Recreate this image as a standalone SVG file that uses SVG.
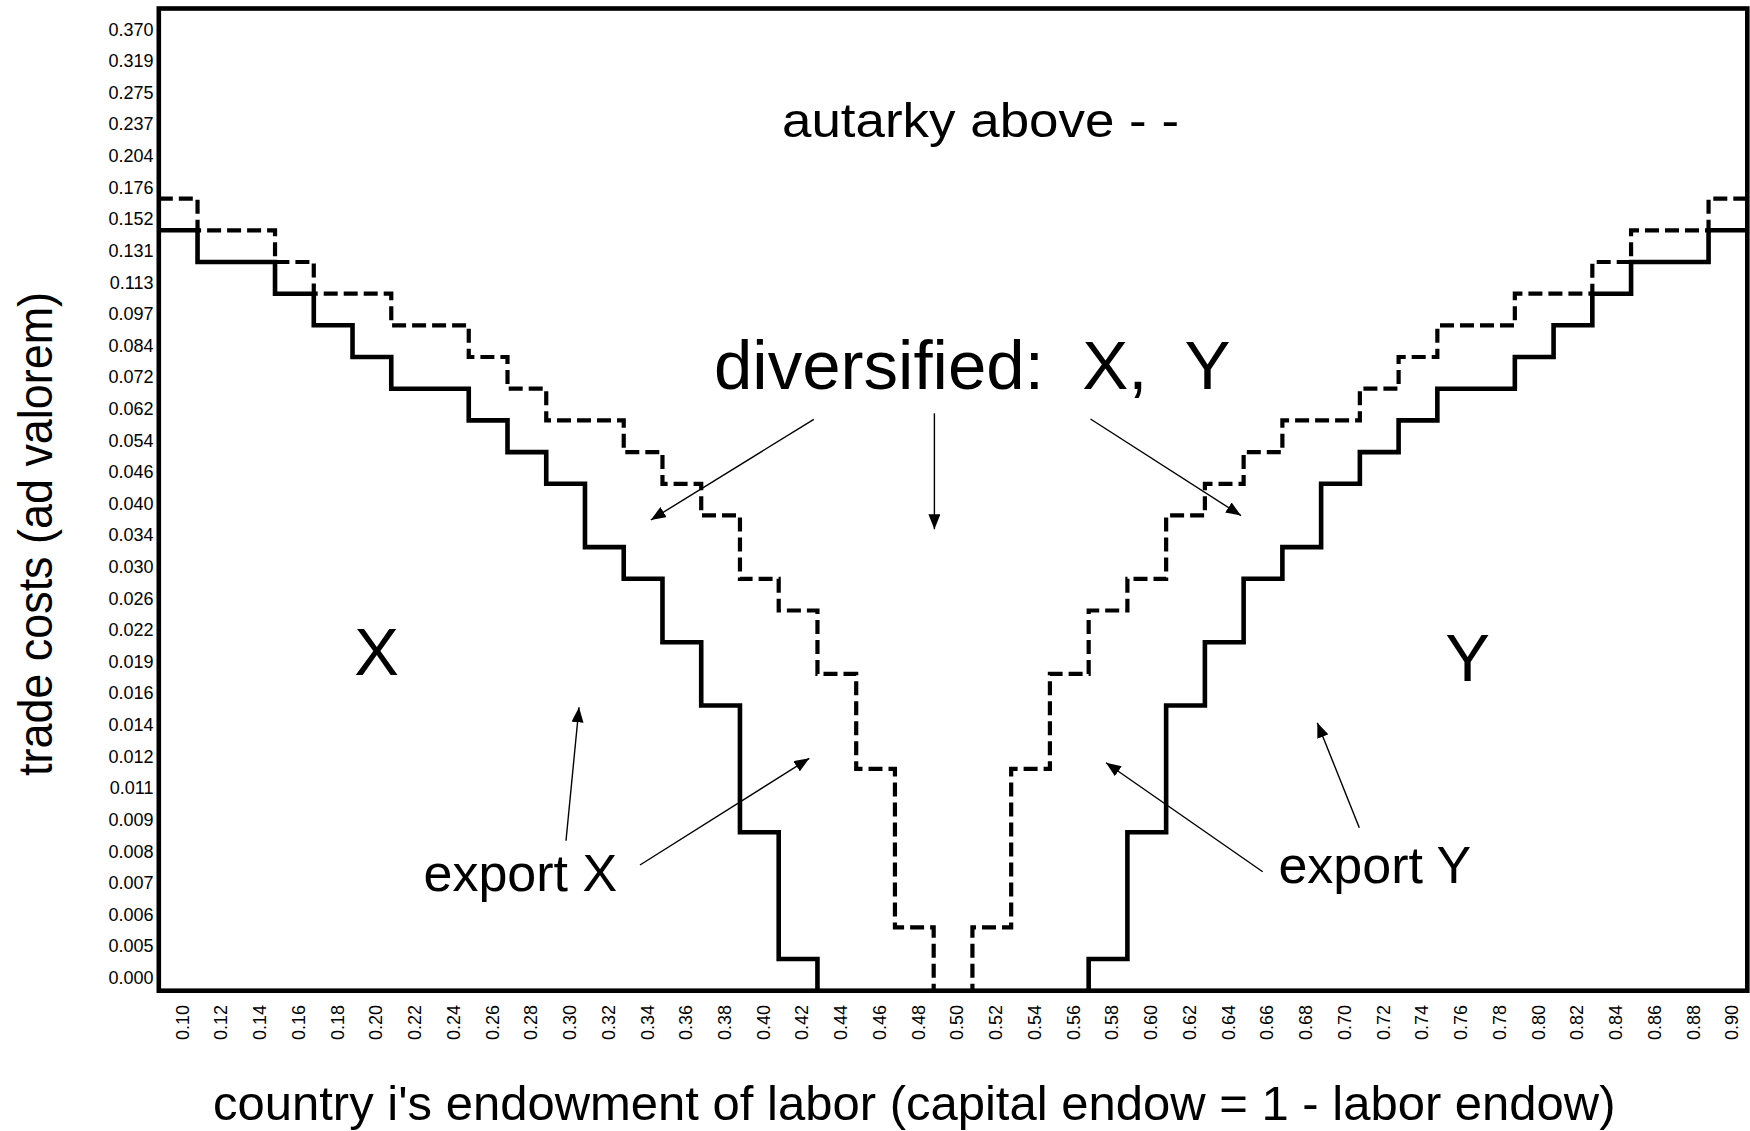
<svg xmlns="http://www.w3.org/2000/svg" width="1750" height="1131" viewBox="0 0 1750 1131">
<style>
text{font-family:"Liberation Sans",Arial,Helvetica,sans-serif;fill:#000}
.tk{font-size:18px}
.yt{text-anchor:end}
.xt{text-anchor:end}
.solid{fill:none;stroke:#000;stroke-width:4.6;stroke-linejoin:miter}
.dash{fill:none;stroke:#000;stroke-width:4.2;stroke-dasharray:14 6;stroke-linejoin:miter}
.arr{fill:none;stroke:#000;stroke-width:1.4;marker-end:url(#ah)}
.big{font-size:67px;text-anchor:middle}
.note{font-size:52px}
</style>
<defs>
<marker id="ah" viewBox="0 0 15 12" refX="15" refY="6" markerWidth="15" markerHeight="12" markerUnits="userSpaceOnUse" orient="auto">
<path d="M0,0 L15,6 L0,12 z" fill="#000"/>
</marker>
</defs>
<rect width="1750" height="1131" fill="#fff"/>

<g id="curves">
<path id="solid-left" class="solid" d="M158.8,230.3 H197.54 V262.0 H275.03 V293.7 H313.78 V325.3 H352.52 V357.0 H391.26 V388.7 H468.75 V420.4 H507.50 V452.1 H546.24 V483.8 H584.98 V547.1 H623.73 V578.8 H662.47 V642.2 H701.22 V705.5 H739.96 V832.3 H778.70 V959.0 H817.45 V990.7"/>
<path id="solid-right" class="solid" d="M1088.66,990.7 V959.0 H1127.40 V832.3 H1166.14 V705.5 H1204.89 V642.2 H1243.63 V578.8 H1282.38 V547.1 H1321.12 V483.8 H1359.86 V452.1 H1398.61 V420.4 H1437.35 V388.7 H1514.84 V357.0 H1553.58 V325.3 H1592.33 V293.7 H1631.07 V262.0 H1708.56 V230.3 H1747.3"/>
<path id="dash-left" class="dash" d="M158.8,198.6 H197.54 V230.3 H275.03 V262.0 H313.78 V293.7 H391.26 V325.3 H468.75 V357.0 H507.50 V388.7 H546.24 V420.4 H623.73 V452.1 H662.47 V483.8 H701.22 V515.4 H739.96 V578.8 H778.70 V610.5 H817.45 V673.9 H856.19 V768.9 H894.94 V927.3 H933.68 V990.7"/>
<path id="dash-right" class="dash" d="M1747.3,198.6 H1708.56 V230.3 H1631.07 V262.0 H1592.33 V293.7 H1514.84 V325.3 H1437.35 V357.0 H1398.61 V388.7 H1359.86 V420.4 H1282.38 V452.1 H1243.63 V483.8 H1204.89 V515.4 H1166.14 V578.8 H1127.40 V610.5 H1088.66 V673.9 H1049.91 V768.9 H1011.17 V927.3 H972.42 V990.7"/>
</g>

<g id="frame">
<rect x="158.8" y="8.5" width="1588.5" height="982.2" fill="none" stroke="#000" stroke-width="4.6"/>
</g>

<g id="y-ticks" class="tk yt">
<text x="153.5" y="35.6">0.370</text>
<text x="153.5" y="67.2">0.319</text>
<text x="153.5" y="98.8">0.275</text>
<text x="153.5" y="130.4">0.237</text>
<text x="153.5" y="162.0">0.204</text>
<text x="153.5" y="193.7">0.176</text>
<text x="153.5" y="225.3">0.152</text>
<text x="153.5" y="256.9">0.131</text>
<text x="153.5" y="288.5">0.113</text>
<text x="153.5" y="320.1">0.097</text>
<text x="153.5" y="351.7">0.084</text>
<text x="153.5" y="383.3">0.072</text>
<text x="153.5" y="414.9">0.062</text>
<text x="153.5" y="446.5">0.054</text>
<text x="153.5" y="478.1">0.046</text>
<text x="153.5" y="509.8">0.040</text>
<text x="153.5" y="541.4">0.034</text>
<text x="153.5" y="573.0">0.030</text>
<text x="153.5" y="604.6">0.026</text>
<text x="153.5" y="636.2">0.022</text>
<text x="153.5" y="667.8">0.019</text>
<text x="153.5" y="699.4">0.016</text>
<text x="153.5" y="731.0">0.014</text>
<text x="153.5" y="762.6">0.012</text>
<text x="153.5" y="794.2">0.011</text>
<text x="153.5" y="825.9">0.009</text>
<text x="153.5" y="857.5">0.008</text>
<text x="153.5" y="889.1">0.007</text>
<text x="153.5" y="920.7">0.006</text>
<text x="153.5" y="952.3">0.005</text>
<text x="153.5" y="983.9">0.000</text>
</g>

<g id="x-ticks" class="tk xt">
<text transform="translate(188.57,1005) rotate(-90)">0.10</text>
<text transform="translate(227.31,1005) rotate(-90)">0.12</text>
<text transform="translate(266.06,1005) rotate(-90)">0.14</text>
<text transform="translate(304.80,1005) rotate(-90)">0.16</text>
<text transform="translate(343.55,1005) rotate(-90)">0.18</text>
<text transform="translate(382.29,1005) rotate(-90)">0.20</text>
<text transform="translate(421.03,1005) rotate(-90)">0.22</text>
<text transform="translate(459.78,1005) rotate(-90)">0.24</text>
<text transform="translate(498.52,1005) rotate(-90)">0.26</text>
<text transform="translate(537.27,1005) rotate(-90)">0.28</text>
<text transform="translate(576.01,1005) rotate(-90)">0.30</text>
<text transform="translate(614.75,1005) rotate(-90)">0.32</text>
<text transform="translate(653.50,1005) rotate(-90)">0.34</text>
<text transform="translate(692.24,1005) rotate(-90)">0.36</text>
<text transform="translate(730.99,1005) rotate(-90)">0.38</text>
<text transform="translate(769.73,1005) rotate(-90)">0.40</text>
<text transform="translate(808.47,1005) rotate(-90)">0.42</text>
<text transform="translate(847.22,1005) rotate(-90)">0.44</text>
<text transform="translate(885.96,1005) rotate(-90)">0.46</text>
<text transform="translate(924.71,1005) rotate(-90)">0.48</text>
<text transform="translate(963.45,1005) rotate(-90)">0.50</text>
<text transform="translate(1002.19,1005) rotate(-90)">0.52</text>
<text transform="translate(1040.94,1005) rotate(-90)">0.54</text>
<text transform="translate(1079.68,1005) rotate(-90)">0.56</text>
<text transform="translate(1118.43,1005) rotate(-90)">0.58</text>
<text transform="translate(1157.17,1005) rotate(-90)">0.60</text>
<text transform="translate(1195.91,1005) rotate(-90)">0.62</text>
<text transform="translate(1234.66,1005) rotate(-90)">0.64</text>
<text transform="translate(1273.40,1005) rotate(-90)">0.66</text>
<text transform="translate(1312.15,1005) rotate(-90)">0.68</text>
<text transform="translate(1350.89,1005) rotate(-90)">0.70</text>
<text transform="translate(1389.63,1005) rotate(-90)">0.72</text>
<text transform="translate(1428.38,1005) rotate(-90)">0.74</text>
<text transform="translate(1467.12,1005) rotate(-90)">0.76</text>
<text transform="translate(1505.87,1005) rotate(-90)">0.78</text>
<text transform="translate(1544.61,1005) rotate(-90)">0.80</text>
<text transform="translate(1583.35,1005) rotate(-90)">0.82</text>
<text transform="translate(1622.10,1005) rotate(-90)">0.84</text>
<text transform="translate(1660.84,1005) rotate(-90)">0.86</text>
<text transform="translate(1699.59,1005) rotate(-90)">0.88</text>
<text transform="translate(1738.33,1005) rotate(-90)">0.90</text>
</g>

<g id="axis-titles">
<text transform="translate(51.5,776) rotate(-90)" font-size="48" textLength="484" lengthAdjust="spacingAndGlyphs">trade costs (ad valorem)</text>
<text x="213" y="1120" font-size="49">country i's endowment of labor (capital endow = 1 - labor endow)</text>
</g>

<g id="region-labels">
<g id="autarky"><text x="782" y="136.7" font-size="49" textLength="397" lengthAdjust="spacingAndGlyphs">autarky above - -</text></g>
<g id="diversified"><text x="714" y="389" font-size="69" xml:space="preserve">diversified:  X,  Y</text></g>
<g id="label-X"><text class="big" x="376.7" y="675">X</text></g>
<g id="label-Y"><text class="big" x="1467.5" y="681">Y</text></g>
<g id="export-X"><text class="note" x="423.5" y="890.7">export X</text></g>
<g id="export-Y"><text class="note" x="1278.4" y="882.7">export Y</text></g>
</g>

<g id="connectors">
<line class="arr" x1="813.8" y1="419.3" x2="650.8" y2="520"/>
<line class="arr" x1="934.4" y1="413.3" x2="934.4" y2="529.3"/>
<line class="arr" x1="1090.5" y1="419" x2="1241" y2="515.6"/>
<line class="arr" x1="566" y1="840.7" x2="579" y2="707.3"/>
<line class="arr" x1="640" y1="865" x2="809.3" y2="758.3"/>
<line class="arr" x1="1359.3" y1="827.7" x2="1317.3" y2="722.7"/>
<line class="arr" x1="1262.7" y1="871.7" x2="1106" y2="762.7"/>
</g>
</svg>
